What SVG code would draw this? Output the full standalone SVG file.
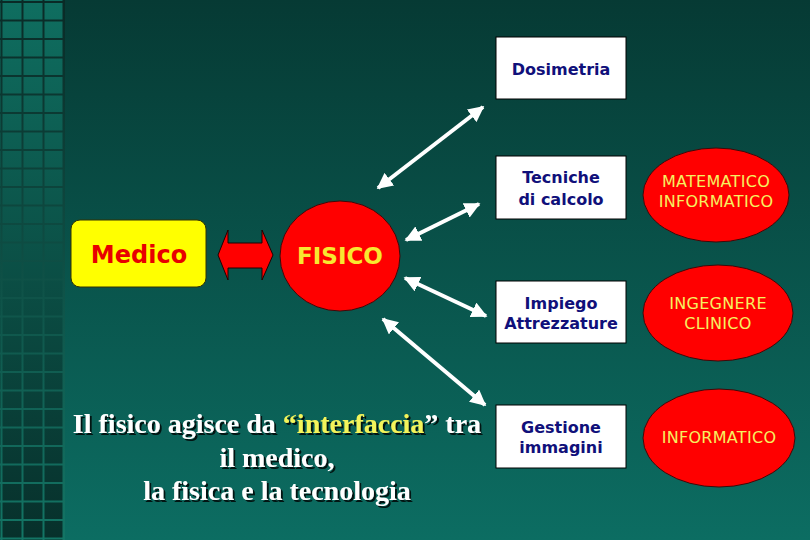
<svg xmlns="http://www.w3.org/2000/svg" width="810" height="540" viewBox="0 0 810 540">
<defs>
<linearGradient id="bg" x1="0" y1="0" x2="0" y2="540" gradientUnits="userSpaceOnUse">
<stop offset="0" stop-color="#063a34"/>
<stop offset="1" stop-color="#0c6d62"/>
</linearGradient>
<linearGradient id="cell" x1="0" y1="0" x2="0" y2="540" gradientUnits="userSpaceOnUse">
<stop offset="0" stop-color="#0f6e60"/>
<stop offset="1" stop-color="#07302b"/>
</linearGradient>
<linearGradient id="grid" x1="0" y1="0" x2="0" y2="540" gradientUnits="userSpaceOnUse">
<stop offset="0" stop-color="#0a2a26"/>
<stop offset="1" stop-color="#137565"/>
</linearGradient>
<marker id="ah" viewBox="0 0 10 10" refX="9" refY="5" markerWidth="4" markerHeight="4" orient="auto-start-reverse" markerUnits="strokeWidth">
<path d="M0,0 L10,5 L0,10 Z" fill="#ffffff"/>
</marker>
<filter id="sh" x="-5%" y="-20%" width="110%" height="140%">
<feDropShadow dx="2" dy="2" stdDeviation="0.6" flood-color="#000000" flood-opacity="0.8"/>
</filter>
</defs>
<style>
.box{fill:#ffffff;stroke:#000000;stroke-width:1}
.boxt{font-family:"DejaVu Sans",Verdana,sans-serif;font-weight:bold;font-size:16px;fill:#10107a;text-anchor:middle}
.ell{fill:#ff0000;stroke:#3a0a0a;stroke-width:1}
.ellt{font-family:"DejaVu Sans",Verdana,sans-serif;font-size:16px;fill:#f6f060;text-anchor:middle;letter-spacing:0.3px}
.conn{stroke:#ffffff;stroke-width:4;fill:none;marker-start:url(#ah);marker-end:url(#ah)}
.cap{font-family:"Liberation Serif","Times New Roman",serif;font-weight:bold;font-size:28px;fill:#ffffff;text-anchor:middle}
</style>
<rect x="0" y="0" width="810" height="540" fill="url(#bg)"/>
<g id="strip">
<rect x="0" y="0" width="64" height="540" fill="url(#cell)"/>
<g fill="url(#grid)">
<rect x="0.5" y="0" width="2" height="540"/>
<rect x="21.5" y="0" width="2" height="540"/>
<rect x="42.5" y="0" width="2" height="540"/>
<rect x="62.5" y="0" width="2.5" height="540"/>
<rect x="0" y="1" width="64" height="2"/>
<rect x="0" y="19.5" width="64" height="2"/>
<rect x="0" y="38" width="64" height="2"/>
<rect x="0" y="56.5" width="64" height="2"/>
<rect x="0" y="75" width="64" height="2"/>
<rect x="0" y="93.5" width="64" height="2"/>
<rect x="0" y="112" width="64" height="2"/>
<rect x="0" y="130.5" width="64" height="2"/>
<rect x="0" y="149" width="64" height="2"/>
<rect x="0" y="167.5" width="64" height="2"/>
<rect x="0" y="186" width="64" height="2"/>
<rect x="0" y="204.5" width="64" height="2"/>
<rect x="0" y="223" width="64" height="2"/>
<rect x="0" y="241.5" width="64" height="2"/>
<rect x="0" y="260" width="64" height="2"/>
<rect x="0" y="278.5" width="64" height="2"/>
<rect x="0" y="297" width="64" height="2"/>
<rect x="0" y="315.5" width="64" height="2"/>
<rect x="0" y="334" width="64" height="2"/>
<rect x="0" y="352.5" width="64" height="2"/>
<rect x="0" y="371" width="64" height="2"/>
<rect x="0" y="389.5" width="64" height="2"/>
<rect x="0" y="408" width="64" height="2"/>
<rect x="0" y="426.5" width="64" height="2"/>
<rect x="0" y="445" width="64" height="2"/>
<rect x="0" y="463.5" width="64" height="2"/>
<rect x="0" y="482" width="64" height="2"/>
<rect x="0" y="500.5" width="64" height="2"/>
<rect x="0" y="519" width="64" height="2"/>
<rect x="0" y="537.5" width="64" height="2"/>
</g>
</g>
<g id="connectors">
<line class="conn" x1="378" y1="188" x2="483" y2="107"/>
<line class="conn" x1="406" y1="240" x2="479" y2="204"/>
<line class="conn" x1="405" y1="278" x2="486" y2="316"/>
<line class="conn" x1="383" y1="319" x2="485" y2="405"/>
</g>
<g id="medico">
<rect x="71" y="220" width="135" height="67" rx="9" ry="9" fill="#ffff00" stroke="#333300" stroke-width="1"/>
<text x="139" y="263" font-family="DejaVu Sans, Verdana, sans-serif" font-weight="bold" font-size="24" fill="#e80000" text-anchor="middle">Medico</text>
</g>
<g id="medico-fisico-arrow">
<polygon points="218,255 228,230 228,243 262,243 262,230 273,255 262,280 262,268 228,268 228,280" fill="#ff0000" stroke="#200000" stroke-width="1"/>
</g>
<g id="fisico">
<ellipse cx="340" cy="256" rx="60" ry="55" fill="#ff0000" stroke="#3a0a0a" stroke-width="1"/>
<text x="340" y="264" font-family="DejaVu Sans, Verdana, sans-serif" font-weight="bold" font-size="23" fill="#f8e830" text-anchor="middle">FISICO</text>
</g>
<g id="dosimetria">
<rect class="box" x="496" y="37" width="130" height="62"/>
<text class="boxt" x="561" y="75">Dosimetria</text>
</g>
<g id="tecniche">
<rect class="box" x="496" y="156" width="130" height="63"/>
<text class="boxt" x="561" y="183">Tecniche</text>
<text class="boxt" x="561" y="205">di calcolo</text>
</g>
<g id="impiego">
<rect class="box" x="496" y="281" width="130" height="62"/>
<text class="boxt" x="561" y="309">Impiego</text>
<text class="boxt" x="561" y="329">Attrezzature</text>
</g>
<g id="gestione">
<rect class="box" x="496" y="405" width="130" height="63"/>
<text class="boxt" x="561" y="433">Gestione</text>
<text class="boxt" x="561" y="453">immagini</text>
</g>
<g id="matematico">
<ellipse class="ell" cx="716" cy="195" rx="73" ry="47"/>
<text class="ellt" x="716" y="187">MATEMATICO</text>
<text class="ellt" x="716" y="207">INFORMATICO</text>
</g>
<g id="ingegnere">
<ellipse class="ell" cx="718" cy="313" rx="75" ry="48"/>
<text class="ellt" x="718" y="309">INGEGNERE</text>
<text class="ellt" x="718" y="329">CLINICO</text>
</g>
<g id="informatico">
<ellipse class="ell" cx="719" cy="438" rx="76" ry="49"/>
<text class="ellt" x="719" y="443">INFORMATICO</text>
</g>
<g id="caption" filter="url(#sh)">
<text class="cap" x="277" y="433">Il fisico agisce da <tspan fill="#f4f45a">“interfaccia</tspan>” tra</text>
<text class="cap" x="277" y="467">il medico,</text>
<text class="cap" x="277" y="500">la fisica e la tecnologia</text>
</g>
</svg>
